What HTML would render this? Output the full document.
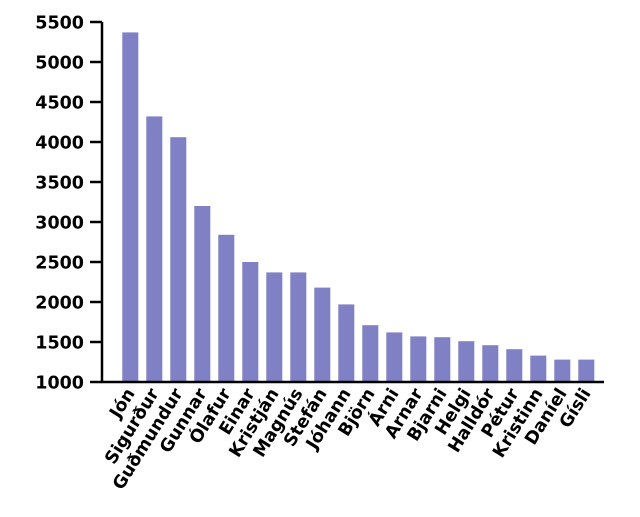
<!DOCTYPE html><html><head><style>body{margin:0;background:#fff}</style></head><body>
<svg width="640" height="512" xmlns="http://www.w3.org/2000/svg" font-family="DejaVu Sans, Liberation Sans, sans-serif" font-weight="bold" font-size="17.5">
<g id="bars" fill="#8080c4"></g>
<g id="tk"></g>
<line x1="102" y1="22" x2="102" y2="383" stroke="#000" stroke-width="2.5"/>
<line x1="101" y1="382" x2="604" y2="382" stroke="#000" stroke-width="2.5"/>
</svg>
<script>
const n=["Jón","Sigurður","Guðmundur","Gunnar","Ólafur","Einar","Kristján","Magnús","Stefán","Jóhann","Björn","Árni","Arnar","Bjarni","Helgi","Halldór","Pétur","Kristinn","Daníel","Gísli"];
const v=[5370,4320,4060,3200,2840,2500,2370,2370,2180,1970,1710,1620,1570,1560,1510,1460,1410,1330,1280,1280];
function y(t){return 382-(t-1000)*0.08}
let h='';
v.forEach((t,i)=>{const x=122.3+i*24;h+=`<rect x="${x}" y="${y(t)}" width="16" height="${382-y(t)}"/>`;});
document.getElementById('bars').innerHTML=h;
let k='';
for(let t=1000;t<=5500;t+=500){k+=`<line x1="90" x2="102" y1="${y(t)}" y2="${y(t)}" stroke="#000" stroke-width="2.5"/><text x="84" y="${y(t)+6.5}" text-anchor="end">${t}</text>`;}
n.forEach((t,i)=>{const x=130.3+i*24+5;k+=`<text transform="translate(${x},393) rotate(-58)" text-anchor="end">${t}</text>`;});
document.getElementById('tk').innerHTML=k;
</script>
</body></html>
